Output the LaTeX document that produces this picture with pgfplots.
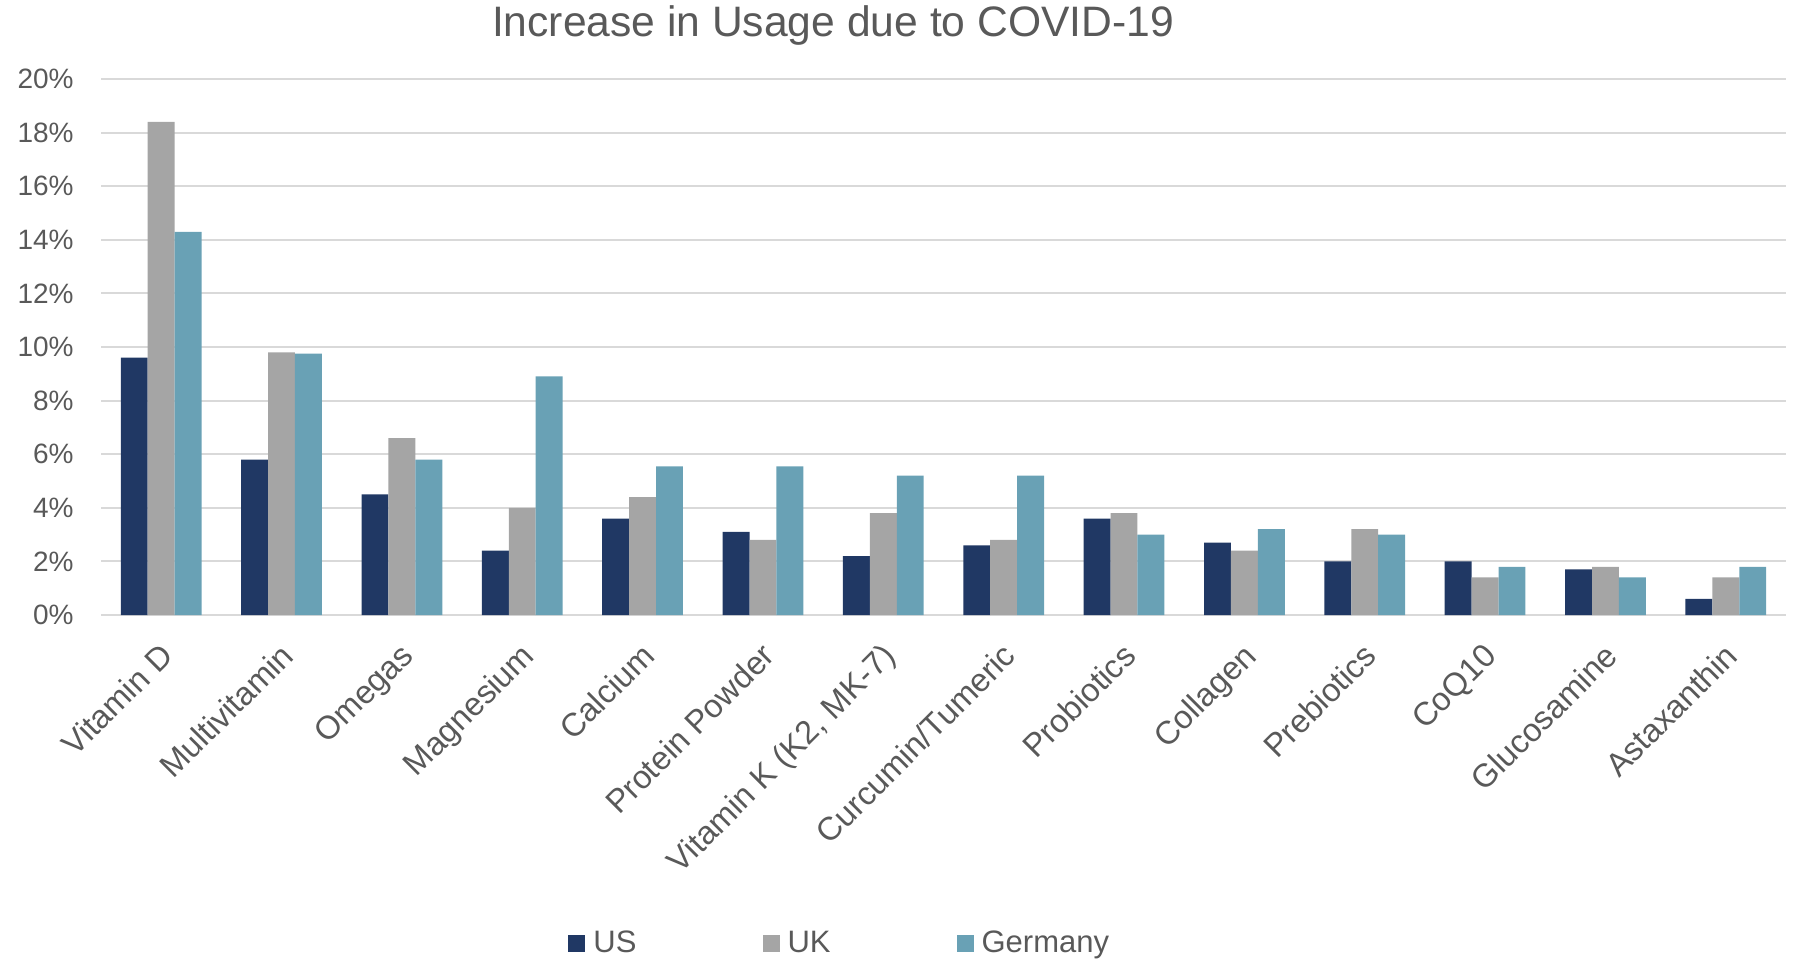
\documentclass[border=0pt]{standalone}
\usepackage{fontspec}
\setmainfont{Liberation Sans}
\usepackage{pgfplots}
\usepackage{pgfplotstable}
\pgfplotsset{compat=1.18}
\definecolor{usc}{HTML}{203864}
\definecolor{ukc}{HTML}{A5A5A5}
\definecolor{dec}{HTML}{69A1B5}
\definecolor{txt}{HTML}{595959}
\definecolor{grd}{HTML}{D9D9D9}

\pgfplotstableread{
x us uk de
0 9.6 18.4 14.3
1 5.8 9.8 9.75
2 4.5 6.6 5.8
3 2.4 4.0 8.9
4 3.6 4.4 5.55
5 3.1 2.8 5.55
6 2.2 3.8 5.2
7 2.6 2.8 5.2
8 3.6 3.8 3.0
9 2.7 2.4 3.2
10 2.0 3.2 3.0
11 2.0 1.4 1.8
12 1.7 1.8 1.4
13 0.6 1.4 1.8
}\datatab

\begin{document}
\begin{tikzpicture}
\path[use as bounding box] (0,0) rectangle (898pt,480pt);
\begin{axis}[
  at={(50.5pt,172.5pt)}, anchor=south west,
  width=842.5pt, height=268pt, scale only axis,
  xmin=-0.5, xmax=13.5, ymin=0, ymax=20,
  axis line style={draw=none},
  major tick length=0pt,
  ymajorgrids, grid style={grd, line width=1pt},
  ytick={0,2,...,20},
  yticklabels={0\%,2\%,4\%,6\%,8\%,10\%,12\%,14\%,16\%,18\%,20\%},
  xtick={0,...,13},
  xticklabels={Vitamin D, Multivitamin, Omegas, Magnesium, Calcium, Protein Powder, {Vitamin K (K2, MK-7)}, Curcumin/Tumeric, Probiotics, Collagen, Prebiotics, CoQ10, Glucosamine, Astaxanthin},
  yticklabel style={font=\fontsize{14}{16}\selectfont, text=txt, inner sep=0pt, xshift=-13.5pt, anchor=east},
  xticklabel style={font=\fontsize{16.3}{19}\selectfont, text=txt, inner sep=0pt, xshift=-1.5pt, yshift=-13pt, rotate=45, anchor=north east},
  legend columns=3,
  legend style={at={(axis description cs:0.2772,-0.6129)}, anchor=west, draw=none, fill=none, inner sep=0pt,
    font=\fontsize{15.5}{18}\selectfont, text=txt,
    nodes={inner sep=0pt},
    /tikz/every odd column/.style={column sep=4pt},
    /tikz/every even column/.style={column sep=63pt}},
  legend image code/.code={\fill[#1] (0pt,-4.25pt) rectangle (8.5pt,4.25pt);},
]
\addplot[ybar, bar width=0.2236, bar shift=-0.2236, fill=usc, draw=none] table[x=x, y=us] {\datatab};
\addplot[ybar, bar width=0.2236, bar shift=0, fill=ukc, draw=none] table[x=x, y=uk] {\datatab};
\addplot[ybar, bar width=0.2236, bar shift=0.2236, fill=dec, draw=none] table[x=x, y=de] {\datatab};
\legend{US, UK, Germany}
\end{axis}
\node[anchor=base, text=txt, font=\fontsize{21.3}{26}\selectfont] at (416.5pt,461.7pt) {Increase in Usage due to COVID-19};
\end{tikzpicture}
\end{document}
